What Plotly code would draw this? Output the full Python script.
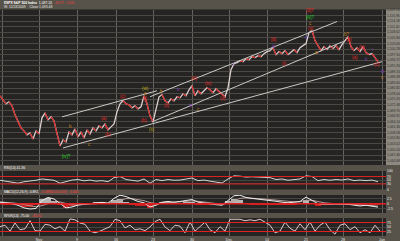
import plotly.graph_objects as go

# ---------------- data ----------------
# hourly-ish closes, one every 3 bars (bar index 0..378)
price_step = 3
price = [1077, 1075, 1073, 1074, 1072, 1067.5, 1064, 1061, 1059.5, 1057.5,
         1058.5, 1055.5, 1059.5, 1058, 1066, 1068.5, 1065, 1066.5, 1064.5, 1058,
         1052, 1055, 1054, 1059, 1057.5, 1060.5, 1056.5, 1059, 1056, 1060,
         1058, 1061, 1059.5, 1062, 1061, 1063, 1060, 1061.5, 1063, 1069,
         1073, 1074.5, 1073, 1072.5, 1071, 1072, 1070.5, 1071.5, 1077, 1073,
         1067, 1064, 1070, 1076.5, 1077.5, 1074.5, 1073.5, 1075.5, 1074.5, 1076.5,
         1076, 1078, 1077, 1080, 1082, 1077, 1079.5, 1078, 1079.5, 1081,
         1080, 1078.5, 1080.5, 1079, 1077.5, 1076.5, 1081, 1090, 1093, 1093.5,
         1094.5, 1094, 1095.5, 1095, 1096.5, 1096, 1097, 1096.5, 1098, 1099,
         1099.5, 1101, 1097.5, 1099, 1098, 1099.5, 1097.5, 1099, 1100, 1098.5,
         1101, 1102, 1103, 1108.5, 1109.5, 1104.5, 1102, 1099.5, 1101.5, 1100,
         1102, 1100.5, 1102, 1100, 1102.5, 1104.5, 1106.5, 1101.5, 1099.5, 1101,
         1099, 1101.5, 1098.5, 1097.5, 1098, 1096, 1094]

ind_step = 6
macd = [0.8, 0.5, 0, -0.8, -2.2, -2.8, -2.5,
        1.7, 3.3, 2.5, 0, -2.2, -1.7, -0.7, -0.3, 0, 0.5, 0.7, 0.3,
        2.8, 4.5, 3.8, 2.5, 1.2, 0.5, -1.7, -0.8, 0.8, 1.2, 0.8, 1.2, 1.7, 2.2, 0.8,
        0.3, 0, -0.5, -0.8, 1.7, 4.2, 4.5, 3.3, 2.8, 2.5, 2.0, 1.7, 1.3, 0.8, 0.5, 0.8, 1.2,
        3.5, 1.7, 0, -0.3, -0.2, 0, -0.2, -0.3, -0.8, -1.2, -0.8, -1.2, -1.8]
signal = [0.9, 0.8, 0.5, 0.1, -0.5, -1.2, -1.6,
          -1.0, 0.2, 1.0, 0.9, 0.0, -0.6, -0.6, -0.5, -0.3, 0.0, 0.3, 0.3,
          0.9, 2.0, 2.7, 2.7, 2.2, 1.6, 0.6, 0.1, 0.3, 0.6, 0.7, 0.9, 1.2, 1.5, 1.3,
          0.9, 0.5, 0.1, -0.3, 0.3, 1.6, 2.8, 3.1, 3.0, 2.8, 2.5, 2.2, 1.9, 1.5, 1.1, 1.0, 1.0,
          1.8, 1.8, 1.1, 0.5, 0.2, 0.1, 0.0, -0.1, -0.4, -0.7, -0.8, -1.0, -1.3]
rsi = [50, 45, 42, 34, 42, 45, 50, 57, 54, 50, 34, 42, 51, 54, 47, 51, 45, 48, 42, 64,
       70, 54, 50, 45, 57, 34, 54, 48, 54, 50, 51, 57, 62, 48,
       51, 45, 42, 35, 57, 74, 72, 67, 69, 66, 67, 64, 54, 57, 50, 54, 57, 74, 70, 48,
       54, 50, 54, 51, 57, 48, 51, 48, 51, 42]

wr_step = 5
wr = [52, 60, 27, 72, 35, 40, 85, 30, 27, 65, 60, 40, 52, 27, 95, 90, 72, 65, 27, 18,
      27, 40, 52, 93, 85, 45, 60, 35, 40, 30, 50, 80, 93, 50, 30, 60, 55, 18, 77, 27,
      52, 77, 35, 18, 52, 27, 93, 95, 93, 85, 90, 85, 93, 77, 60, 18, 27, 77, 43, 27,
      68, 35, 77, 27, 60, 77, 35, 10, 60, 68, 35, 52, 18, 35, 18, 60, 27]

week_ticks = [2, 39, 77, 116, 153, 192, 229, 267, 306, 343, 382]
week_labels = ["Oct", "Nov", "9", "16", "23", "30", "Dec", "14", "21", "28", "Jan"]

# trendlines: (bar, price) end points
lineA_x = [63, 382]; lineA_p = [1051, 1094]
lineB_x = [62, 157]; lineB_p = [1066.5, 1079.5]
lineC_x = [150, 337]; lineC_p = [1076.5, 1114]
lineD_x = [152, 343]; lineD_p = [1064, 1104]

wave_text = ["[iv]?", "b", "c", "(a)", "(b)", "(c)", "(w)", "a", "(i)", "(b)", "(x)", "b",
             "(ii)", "v", "(iii)", "iv", "c", "(iv)", "(v)", "i", "[b]", "iii", "(i)", "a",
             "[3]?", "[iii]?", "c", "(v)", "v", "b?", "(a)", "(b)", "i", "(a)", "ii", "(c)",
             "iii", "c"]
wave_x = [66, 70, 89, 104, 108, 123, 145, 145, 145, 144, 152, 161,
          167, 178, 194, 191, 198, 208, 223, 233, 273, 273, 284, 316,
          310, 310, 310, 311, 306, 347, 349, 362, 372, 355, 366, 377,
          382, 382]
wave_p = [1046.5, 1061.5, 1052.5, 1065.5, 1057.5, 1076.5, 1080.5, 1078, 1075.5, 1064.5, 1060, 1079,
          1072, 1080, 1085.5, 1072, 1070, 1083, 1075.5, 1092.5, 1105, 1101.5, 1093, 1098.5,
          1119.5, 1116, 1113, 1110.5, 1106, 1107.5, 1105, 1101, 1100, 1096, 1095, 1092.5,
          1089.2, 1086]
wave_degree = ["P", "m", "m", "M", "M", "M", "Y", "m", "M", "M", "Y", "m",
               "M", "u", "M", "u", "m", "M", "M", "u", "M", "u", "M", "m",
               "M", "P", "m", "M", "u", "m", "M", "M", "u", "M", "u", "M",
               "u", "m"]

# ---------------- styles ----------------
degree_color = {"P": "#22cc22", "m": "#c98220", "M": "#e02828", "Y": "#b8a818", "u": "#8a3cc8"}
BAND = "#57534a"
PANEL = "#252422"
FONT = "Liberation Sans"

H, W = 241, 400
XR = 386 / W


def py(p):  # pixel row -> paper fraction
    return 1 - p / H


fig = go.Figure()

px_x = [i * price_step for i in range(len(price))]
fig.add_trace(go.Scatter(x=px_x, y=price, mode="lines", line=dict(color="#dccfcf", width=1.3),
                         xaxis="x", yaxis="y", hoverinfo="skip"))
rx, ry = [], []
for i in range(1, len(price)):
    if price[i] < price[i - 1]:
        rx += [px_x[i - 1], px_x[i], None]
        ry += [price[i - 1], price[i], None]
fig.add_trace(go.Scatter(x=rx, y=ry, mode="lines", line=dict(color="#d42424", width=1.2),
                         xaxis="x", yaxis="y", hoverinfo="skip"))

for lx, lp in [(lineA_x, lineA_p), (lineB_x, lineB_p), (lineC_x, lineC_p), (lineD_x, lineD_p)]:
    fig.add_trace(go.Scatter(x=lx, y=lp, mode="lines", line=dict(color="#c9c9c6", width=1),
                             xaxis="x", yaxis="y", hoverinfo="skip"))

ind_x = [i * ind_step for i in range(len(macd))]
fig.add_trace(go.Scatter(x=ind_x, y=rsi, mode="lines", line=dict(color="#d8d4d4", width=1),
                         xaxis="x2", yaxis="y2"))

hist = [m - s for m, s in zip(macd, signal)]
fig.add_trace(go.Bar(x=ind_x, y=hist, width=ind_step,
                     marker=dict(color=["#cfcfcf" if h >= 0 else "#e02020" for h in hist], line=dict(width=0)),
                     opacity=0.85, xaxis="x3", yaxis="y3"))
fig.add_trace(go.Scatter(x=ind_x, y=signal, mode="lines", line=dict(color="#b89a9a", width=1),
                         xaxis="x3", yaxis="y3"))
fig.add_trace(go.Scatter(x=ind_x, y=macd, mode="lines", line=dict(color="#ececec", width=1),
                         xaxis="x3", yaxis="y3"))

wr_x = [i * wr_step for i in range(len(wr))]
fig.add_trace(go.Scatter(x=wr_x, y=wr, mode="lines", line=dict(color="#e0c8c8", width=1),
                         xaxis="x4", yaxis="y4"))

annotations = []
for t, x, p, d in zip(wave_text, wave_x, wave_p, wave_degree):
    annotations.append(dict(x=x, y=p, xref="x", yref="y", text=t, showarrow=False,
                            font=dict(size=4.6, color=degree_color[d], family=FONT)))

annotations += [
    dict(x=0.005, y=py(3), xref="paper", yref="paper", xanchor="left", yanchor="middle", showarrow=False,
         text="<b>$SPX S&P 500 Index</b>  1,087.24  <span style='color:#ff3838'>-10.77  -1.0%</span>",
         font=dict(size=3.4, color="#ffffff", family=FONT)),
    dict(x=0.005, y=py(6.8), xref="paper", yref="paper", xanchor="left", yanchor="middle", showarrow=False,
         text="W: 11/13/2009    Close 1,093.48", font=dict(size=3.4, color="#e8e8e8", family=FONT)),
    dict(x=0.005, y=py(168), xref="paper", yref="paper", xanchor="left", yanchor="middle", showarrow=False,
         text="RSI(14) 41.36", font=dict(size=3.4, color="#ffffff", family=FONT)),
    dict(x=0.005, y=py(192.3), xref="paper", yref="paper", xanchor="left", yanchor="middle", showarrow=False,
         text="MACD(12,26,9) -0.892,  <span style='color:#ff3838'>-0.488(0.00,0.00)  -0.404</span>",
         font=dict(size=3.4, color="#ffffff", family=FONT)),
    dict(x=0.005, y=py(215.6), xref="paper", yref="paper", xanchor="left", yanchor="middle", showarrow=False,
         text="W%R(14) -75.00   <span style='color:#ff3838'>-84.62</span>",
         font=dict(size=3.4, color="#ffffff", family=FONT)),
]

shapes = [
    dict(type="rect", xref="paper", yref="paper", x0=XR, x1=1, y0=py(165), y1=py(9.5),
         fillcolor="#8e8a81", line=dict(width=0), layer="below"),
    dict(type="line", xref="paper", yref="y2", x0=0, x1=XR, y0=70, y1=70, line=dict(color="#e02020", width=1)),
    dict(type="line", xref="paper", yref="y2", x0=0, x1=XR, y0=30, y1=30, line=dict(color="#e02020", width=1)),
    dict(type="line", xref="paper", yref="y3", x0=0, x1=XR, y0=0, y1=0, line=dict(color="#e02020", width=1.5)),
    dict(type="line", xref="paper", yref="y4", x0=0, x1=XR, y0=75, y1=75, line=dict(color="#e02020", width=1)),
    dict(type="line", xref="paper", yref="y4", x0=0, x1=XR, y0=25, y1=25, line=dict(color="#e02020", width=1)),
]


def xax(anchor, labels=False):
    return dict(domain=[0, XR], range=[0, 386], anchor=anchor, showgrid=True, gridcolor="#64635f",
                gridwidth=1, tickvals=week_ticks, ticktext=week_labels, showticklabels=labels,
                ticks="", zeroline=False, showline=False, automargin=False,
                tickfont=dict(size=3.6, color="#e6e6e6", family=FONT))


def yax(dom, rng, **kw):
    d = dict(domain=dom, range=rng, side="right", anchor="x", showgrid=True, gridcolor="#454440",
             ticks="", zeroline=False, showline=False, automargin=False,
             tickfont=dict(size=3.4, color="#f0f0f0", family=FONT))
    d.update(kw)
    return d


fig.update_layout(
    width=W, height=H, margin=dict(l=0, r=0, t=0, b=0),
    paper_bgcolor=BAND, plot_bgcolor=PANEL, showlegend=False, bargap=0,
    xaxis=xax("y"), xaxis2=dict(xax("y2"), matches="x"), xaxis3=dict(xax("y3"), matches="x"),
    xaxis4=dict(xax("y4", labels=True), matches="x"),
    yaxis=yax([py(165), py(9.5)], [1042.5, 1120], tick0=1083.6, dtick=2.78, tickformat=",.2f",
              tickfont=dict(size=3.3, color="#2e2e2c", family=FONT), gridcolor="#4a4945"),
    yaxis2=yax([py(189.5), py(171)], [0, 100], tickvals=[0, 30, 50, 70, 100], anchor="x2"),
    yaxis3=yax([py(213), py(195)], [-4.9, 4.6], tickvals=[-2.5, 0, 2.5], ticktext=["-2.5", "0", "2.5"], anchor="x3"),
    yaxis4=yax([py(236), py(218)], [0, 100], tickvals=[25, 50, 75], anchor="x4"),
    annotations=annotations, shapes=shapes,
)

fig.write_html("out.html")
